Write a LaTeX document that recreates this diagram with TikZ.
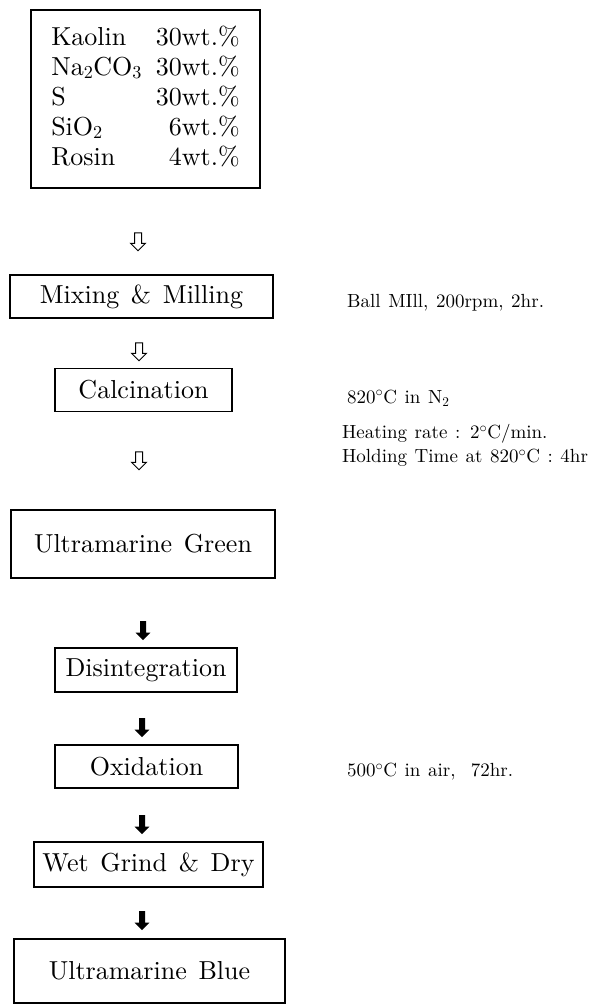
\documentclass[tikz,border=0pt]{standalone}
\usepackage{fontspec}
\setmainfont{lmroman10-regular.otf}
\usepackage{tikz}
\usetikzlibrary{positioning,calc,shapes.arrows}

\newcommand\boxfont{\fontsize{26}{30}\selectfont\spaceskip=.45em\relax}
\newcommand\notefont{\fontsize{19}{23}\selectfont\spaceskip=.4em\relax}

\begin{document}
\begin{tikzpicture}[
  x=1pt, y=-1pt,
  stepbox/.style={draw, line width=1.2pt, inner sep=0pt, align=center, font=\boxfont},
  bigbox/.style={stepbox, line width=2.4pt},
  note/.style={anchor=west, inner sep=0pt, font=\notefont},
  openarr/.style={single arrow, draw, line width=1pt, inner xsep=3pt, inner ysep=0pt,
    shape border rotate=270, minimum height=18pt, single arrow head extend=4pt},
  fullarr/.style={single arrow, fill=black, inner xsep=2.8pt, inner ysep=0pt,
    shape border rotate=270, minimum height=19pt, single arrow head extend=4.3pt}
]
\useasboundingbox (0,0) rectangle (605,1007);

% raw materials
\node[bigbox, minimum width=229pt, minimum height=178pt] (raw) at (145.5,99) {%
  \begin{tabular}{@{}l@{\hspace{14pt}}r@{}}
  Kaolin & 30wt.\% \\
  Na\textsubscript{2}CO\textsubscript{3} & 30wt.\% \\
  S & 30wt.\% \\
  SiO\textsubscript{2} & 6wt.\% \\
  Rosin & 4wt.\%
  \end{tabular}};

% process steps
\node[stepbox, minimum width=263pt, minimum height=43pt] (mill) at (141.5,296.5) {Mixing \& Milling};
\node[stepbox, minimum width=177pt, minimum height=43pt] (calc) at (143.5,390) {Calcination};
\node[bigbox, minimum width=264pt, minimum height=68pt] (green) at (143,544) {Ultramarine Green};
\node[stepbox, minimum width=182pt, minimum height=44pt] (dis) at (146,670) {Disintegration};
\node[stepbox, minimum width=183pt, minimum height=43pt] (oxid) at (146.5,766.5) {Oxidation};
\node[stepbox, minimum width=229pt, minimum height=45pt] (wet) at (148.5,864.5) {Wet Grind \& Dry};
\node[bigbox, minimum width=271pt, minimum height=64pt] (blue) at (149.5,971) {Ultramarine Blue};

% arrows
\node[openarr] (a1) at (138,240) {};
\node[openarr] (a2) at (139,350) {};
\node[openarr] (a3) at (139,459) {};
\node[fullarr] (a4) at (143,629) {};
\node[fullarr] (a5) at (142,726) {};
\node[fullarr] (a6) at (142,823) {};
\node[fullarr] (a7) at (142,919) {};

% conditions
\node[note] (n1) at (347,303) {Ball MIll, 200rpm, 2hr.};
\node[note] (n2) at (347,398) {820$^{\circ}$C in N\textsubscript{2}};
\node[note] (n3) at (342,434) {Heating rate : 2$^{\circ}$C/min.};
\node[note] (n4) at (342,458) {Holding Time at 820$^{\circ}$C : 4hr};
\node[note] (n5) at (347,772) {500$^{\circ}$C in air, \ 72hr.};
\end{tikzpicture}
\end{document}
